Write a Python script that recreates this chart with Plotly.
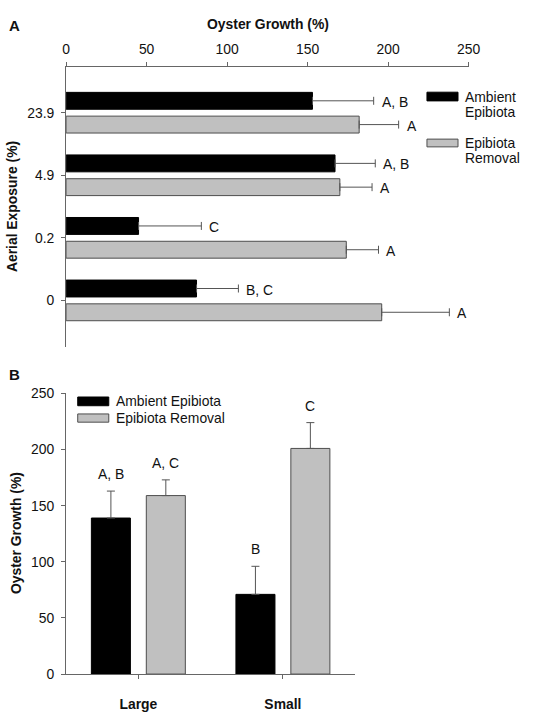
import plotly.graph_objects as go

# ---------------- data ----------------
# Panel A (horizontal bars), categories bottom -> top
exposure = ["0", "0.2", "4.9", "23.9"]
ambient_a = [81, 45, 167, 153]
ambient_a_err = [26, 39, 25, 38]
removal_a = [196, 174, 170, 182]
removal_a_err = [42, 20, 20, 24.5]
ambient_a_letters = ["B, C", "C", "A, B", "A, B"]
removal_a_letters = ["A", "A", "A", "A"]
growth_ticks = [0, 50, 100, 150, 200, 250]

# Panel B (vertical bars)
size_class = ["Large", "Small"]
ambient_b = [139, 71]
ambient_b_err = [24, 25]
removal_b = [159, 201]
removal_b_err = [14, 23]
ambient_b_letters = ["A, B", "B"]
removal_b_letters = ["A, C", "C"]

series_names = ["Ambient Epibiota", "Epibiota Removal"]

# ---------------- style ----------------
W, H = 535, 712
FONT = "Arial, Liberation Sans, sans-serif"
FS = 13.9
TXT = "#111111"
AX = "#666666"
BLACK = "#000000"
GREY = "#c0c0c0"
GREY_EDGE = "#4d4d4d"
ERR = "#555555"
BW = 0.27
OFF_IN = 0.055


def px(x):
    return x / W


def py(y):
    return 1 - y / H


def err(arr):
    return dict(type="data", array=arr, arrayminus=[0] * len(arr), symmetric=False,
                color=ERR, thickness=1, width=4)


fig = go.Figure()

# Panel A
fig.add_trace(go.Bar(y=exposure, x=ambient_a, orientation="h", name=series_names[0],
                     xaxis="x", yaxis="y", width=BW, offset=OFF_IN,
                     marker=dict(color=BLACK, line=dict(color=BLACK, width=1)),
                     error_x=err(ambient_a_err), showlegend=False))
fig.add_trace(go.Bar(y=exposure, x=removal_a, orientation="h", name=series_names[1],
                     xaxis="x", yaxis="y", width=BW, offset=-OFF_IN - BW,
                     marker=dict(color=GREY, line=dict(color=GREY_EDGE, width=1)),
                     error_x=err(removal_a_err), showlegend=False))

# Panel B
fig.add_trace(go.Bar(x=size_class, y=ambient_b, name=series_names[0],
                     xaxis="x2", yaxis="y2", width=BW, offset=-OFF_IN - BW,
                     marker=dict(color=BLACK, line=dict(color=BLACK, width=1)),
                     error_y=err(ambient_b_err), showlegend=False))
fig.add_trace(go.Bar(x=size_class, y=removal_b, name=series_names[1],
                     xaxis="x2", yaxis="y2", width=BW, offset=OFF_IN,
                     marker=dict(color=GREY, line=dict(color=GREY_EDGE, width=1)),
                     error_y=err(removal_b_err), showlegend=False))

axis_common = dict(showline=True, linecolor=AX, linewidth=1, ticks="outside",
                   ticklen=4, tickcolor=AX, tickwidth=1, showgrid=False,
                   zeroline=False, tickfont=dict(family=FONT, size=FS, color=TXT),
                   fixedrange=True)

annotations = []
shapes = []

bar_center = OFF_IN + BW / 2

# letters panel A
for i in range(len(exposure)):
    annotations.append(dict(xref="x", yref="y", x=ambient_a[i] + ambient_a_err[i],
                            y=i + bar_center, text=ambient_a_letters[i], showarrow=False,
                            xanchor="left", yanchor="middle", xshift=6, yshift=-1,
                            font=dict(family=FONT, size=FS, color=TXT)))
    annotations.append(dict(xref="x", yref="y", x=removal_a[i] + removal_a_err[i],
                            y=i - bar_center, text=removal_a_letters[i], showarrow=False,
                            xanchor="left", yanchor="middle", xshift=6, yshift=-1,
                            font=dict(family=FONT, size=FS, color=TXT)))

# letters panel B
for i in range(len(size_class)):
    annotations.append(dict(xref="x2", yref="y2", x=i - bar_center,
                            y=ambient_b[i] + ambient_b_err[i], text=ambient_b_letters[i],
                            showarrow=False, xanchor="center", yanchor="bottom", yshift=7,
                            font=dict(family=FONT, size=FS, color=TXT)))
    annotations.append(dict(xref="x2", yref="y2", x=i + bar_center,
                            y=removal_b[i] + removal_b_err[i], text=removal_b_letters[i],
                            showarrow=False, xanchor="center", yanchor="bottom", yshift=7,
                            font=dict(family=FONT, size=FS, color=TXT)))

bold = dict(family=FONT, size=FS, color=TXT, weight="bold")

# panel labels and axis titles
annotations += [
    dict(xref="paper", yref="paper", x=px(3), y=py(18), text="<b>A</b>", showarrow=False,
         xanchor="left", yanchor="middle", font=dict(family=FONT, size=15, color=TXT)),
    dict(xref="paper", yref="paper", x=px(3), y=py(379), text="<b>B</b>", showarrow=False,
         xanchor="left", yanchor="middle", font=dict(family=FONT, size=15, color=TXT)),
    dict(xref="paper", yref="paper", x=px(272), y=py(17), text="<b>Oyster Growth (%)</b>",
         showarrow=False, xanchor="center", yanchor="middle", font=bold),
    dict(xref="paper", yref="paper", x=px(9), y=py(205), text="<b>Aerial Exposure (%)</b>",
         showarrow=False, xanchor="center", yanchor="middle", textangle=-90, font=bold),
    dict(xref="paper", yref="paper", x=px(13), y=py(543), text="<b>Oyster Growth (%)</b>",
         showarrow=False, xanchor="center", yanchor="middle", textangle=-90, font=bold),
]

# legend panel A (two-line labels)
leg_font = dict(family=FONT, size=FS, color=TXT)
shapes.append(dict(type="rect", xref="paper", yref="paper", x0=px(436), x1=px(468),
                   y0=py(96), y1=py(87), fillcolor=BLACK, line=dict(color=BLACK, width=1)))
shapes.append(dict(type="rect", xref="paper", yref="paper", x0=px(436), x1=px(468),
                   y0=py(143.5), y1=py(135.5), fillcolor=GREY, line=dict(color=GREY_EDGE, width=1)))
for txt, yy in [("Ambient", 92), ("Epibiota", 107), ("Epibiota", 140), ("Removal", 155)]:
    annotations.append(dict(xref="paper", yref="paper", x=px(473), y=py(yy), text=txt,
                            showarrow=False, xanchor="left", yanchor="middle", font=leg_font))

# legend panel B
shapes.append(dict(type="rect", xref="paper", yref="paper", x0=px(76), x1=px(108),
                   y0=py(411), y1=py(402), fillcolor=BLACK, line=dict(color=BLACK, width=1)))
shapes.append(dict(type="rect", xref="paper", yref="paper", x0=px(76), x1=px(108),
                   y0=py(428), y1=py(419.5), fillcolor=GREY, line=dict(color=GREY_EDGE, width=1)))
for txt, yy in [(series_names[0], 406.5), (series_names[1], 423.5)]:
    annotations.append(dict(xref="paper", yref="paper", x=px(113), y=py(yy), text=txt,
                            showarrow=False, xanchor="left", yanchor="middle", font=leg_font))

fig.update_layout(
    width=W, height=H,
    margin=dict(l=0, r=0, t=0, b=0),
    paper_bgcolor="white", plot_bgcolor="white",
    barmode="overlay",
    showlegend=False,
    font=dict(family=FONT, size=FS, color=TXT),
    xaxis=dict(domain=[px(64), px(479)], anchor="y", side="top", range=[0, 250],
               tickmode="array", tickvals=growth_ticks, ticklabelstandoff=2, **axis_common),
    yaxis=dict(domain=[py(350), py(61)], anchor="x", type="category",
               categoryorder="array", categoryarray=exposure,
               range=[-0.74, 3.73], ticklabelstandoff=4, **axis_common),
    xaxis2=dict(domain=[px(64), px(362)], anchor="y2", type="category",
                categoryorder="array", categoryarray=size_class, range=[-0.5, 1.5],
                ticklabelstandoff=13,
                **{**axis_common, "tickfont": dict(family=FONT, size=FS, color=TXT, weight="bold")}),
    yaxis2=dict(domain=[py(688.3), py(398.3)], anchor="x2", range=[0, 250],
                tickmode="array", tickvals=growth_ticks, ticklabelstandoff=4, **axis_common),
    annotations=annotations,
    shapes=shapes,
)

fig.write_html("out.html", config=dict(displayModeBar=False))
